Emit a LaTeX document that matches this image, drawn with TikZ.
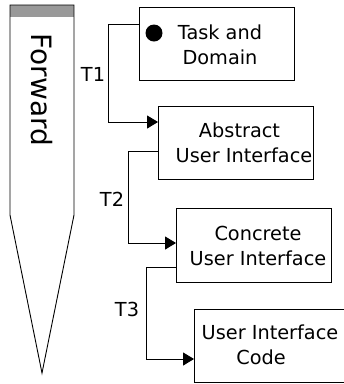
\documentclass[tikz,border=0pt]{standalone}
\usepackage{fontspec}
\setmainfont{DejaVu Sans}
\usetikzlibrary{arrows.meta}
\tikzset{
  box/.style={draw, line width=0.9pt, minimum width=155pt, minimum height=73pt, inner sep=0pt},
  txt/.style={align=center, inner sep=0pt, font=\fontsize{19.3}{24.5}\selectfont},
  conn/.style={line width=1pt, -{Triangle[length=11pt,width=13pt]}},
  tlabel/.style={inner sep=0pt, font=\fontsize{19.3}{24}\selectfont}
}
\begin{document}
\begin{tikzpicture}[x=1pt, y=-1pt]
\useasboundingbox (0,0) rectangle (344,384);

% pencil
\fill[gray!80] (10,5) rectangle (74,17);
\draw[line width=0.9pt, line join=miter] (10,5) -- (74,5) -- (74,215) -- (42,373) -- (10,215) -- cycle;
\node[rotate=-90, inner sep=0pt, font=\fontsize{28}{30}\selectfont] (fwd) at (42,90) {Forward};

% boxes
\node[box] (b1) at (216.5,43.5) {};
\node[box] (b2) at (236,142.5) {};
\node[box, minimum height=74pt] (b3) at (254,245) {};
\node[box] (b4) at (272,345.5) {};

% box texts
\fill (154,33) circle (8.5);
\node[txt] (t1) at (220,45) {Task and\\Domain};
\node[txt] (t2) at (244,143) {Abstract\hspace*{9pt}\\User Interface};
\node[txt] (t3) at (258,246) {Concrete\\User Interface};
\node[txt] (t4) at (270,345) {User Interface\\Code\hspace*{18pt}};

% transformations
\draw[conn] ([yshift=19.5pt]b1.west) -- ++(-30,0) |- ([yshift=20.5pt]b2.west);
\draw[conn] ([yshift=-8.5pt]b2.west) -- ++(-30,0) |- ([yshift=2pt]b3.west);
\draw[conn] ([yshift=-22pt]b3.west) -- ++(-30,0) |- ([yshift=-13.5pt]b4.west);

\node[tlabel] (l1) at (93,74) {T1};
\node[tlabel] (l2) at (112,199) {T2};
\node[tlabel] (l3) at (127,309) {T3};
\end{tikzpicture}
\end{document}
